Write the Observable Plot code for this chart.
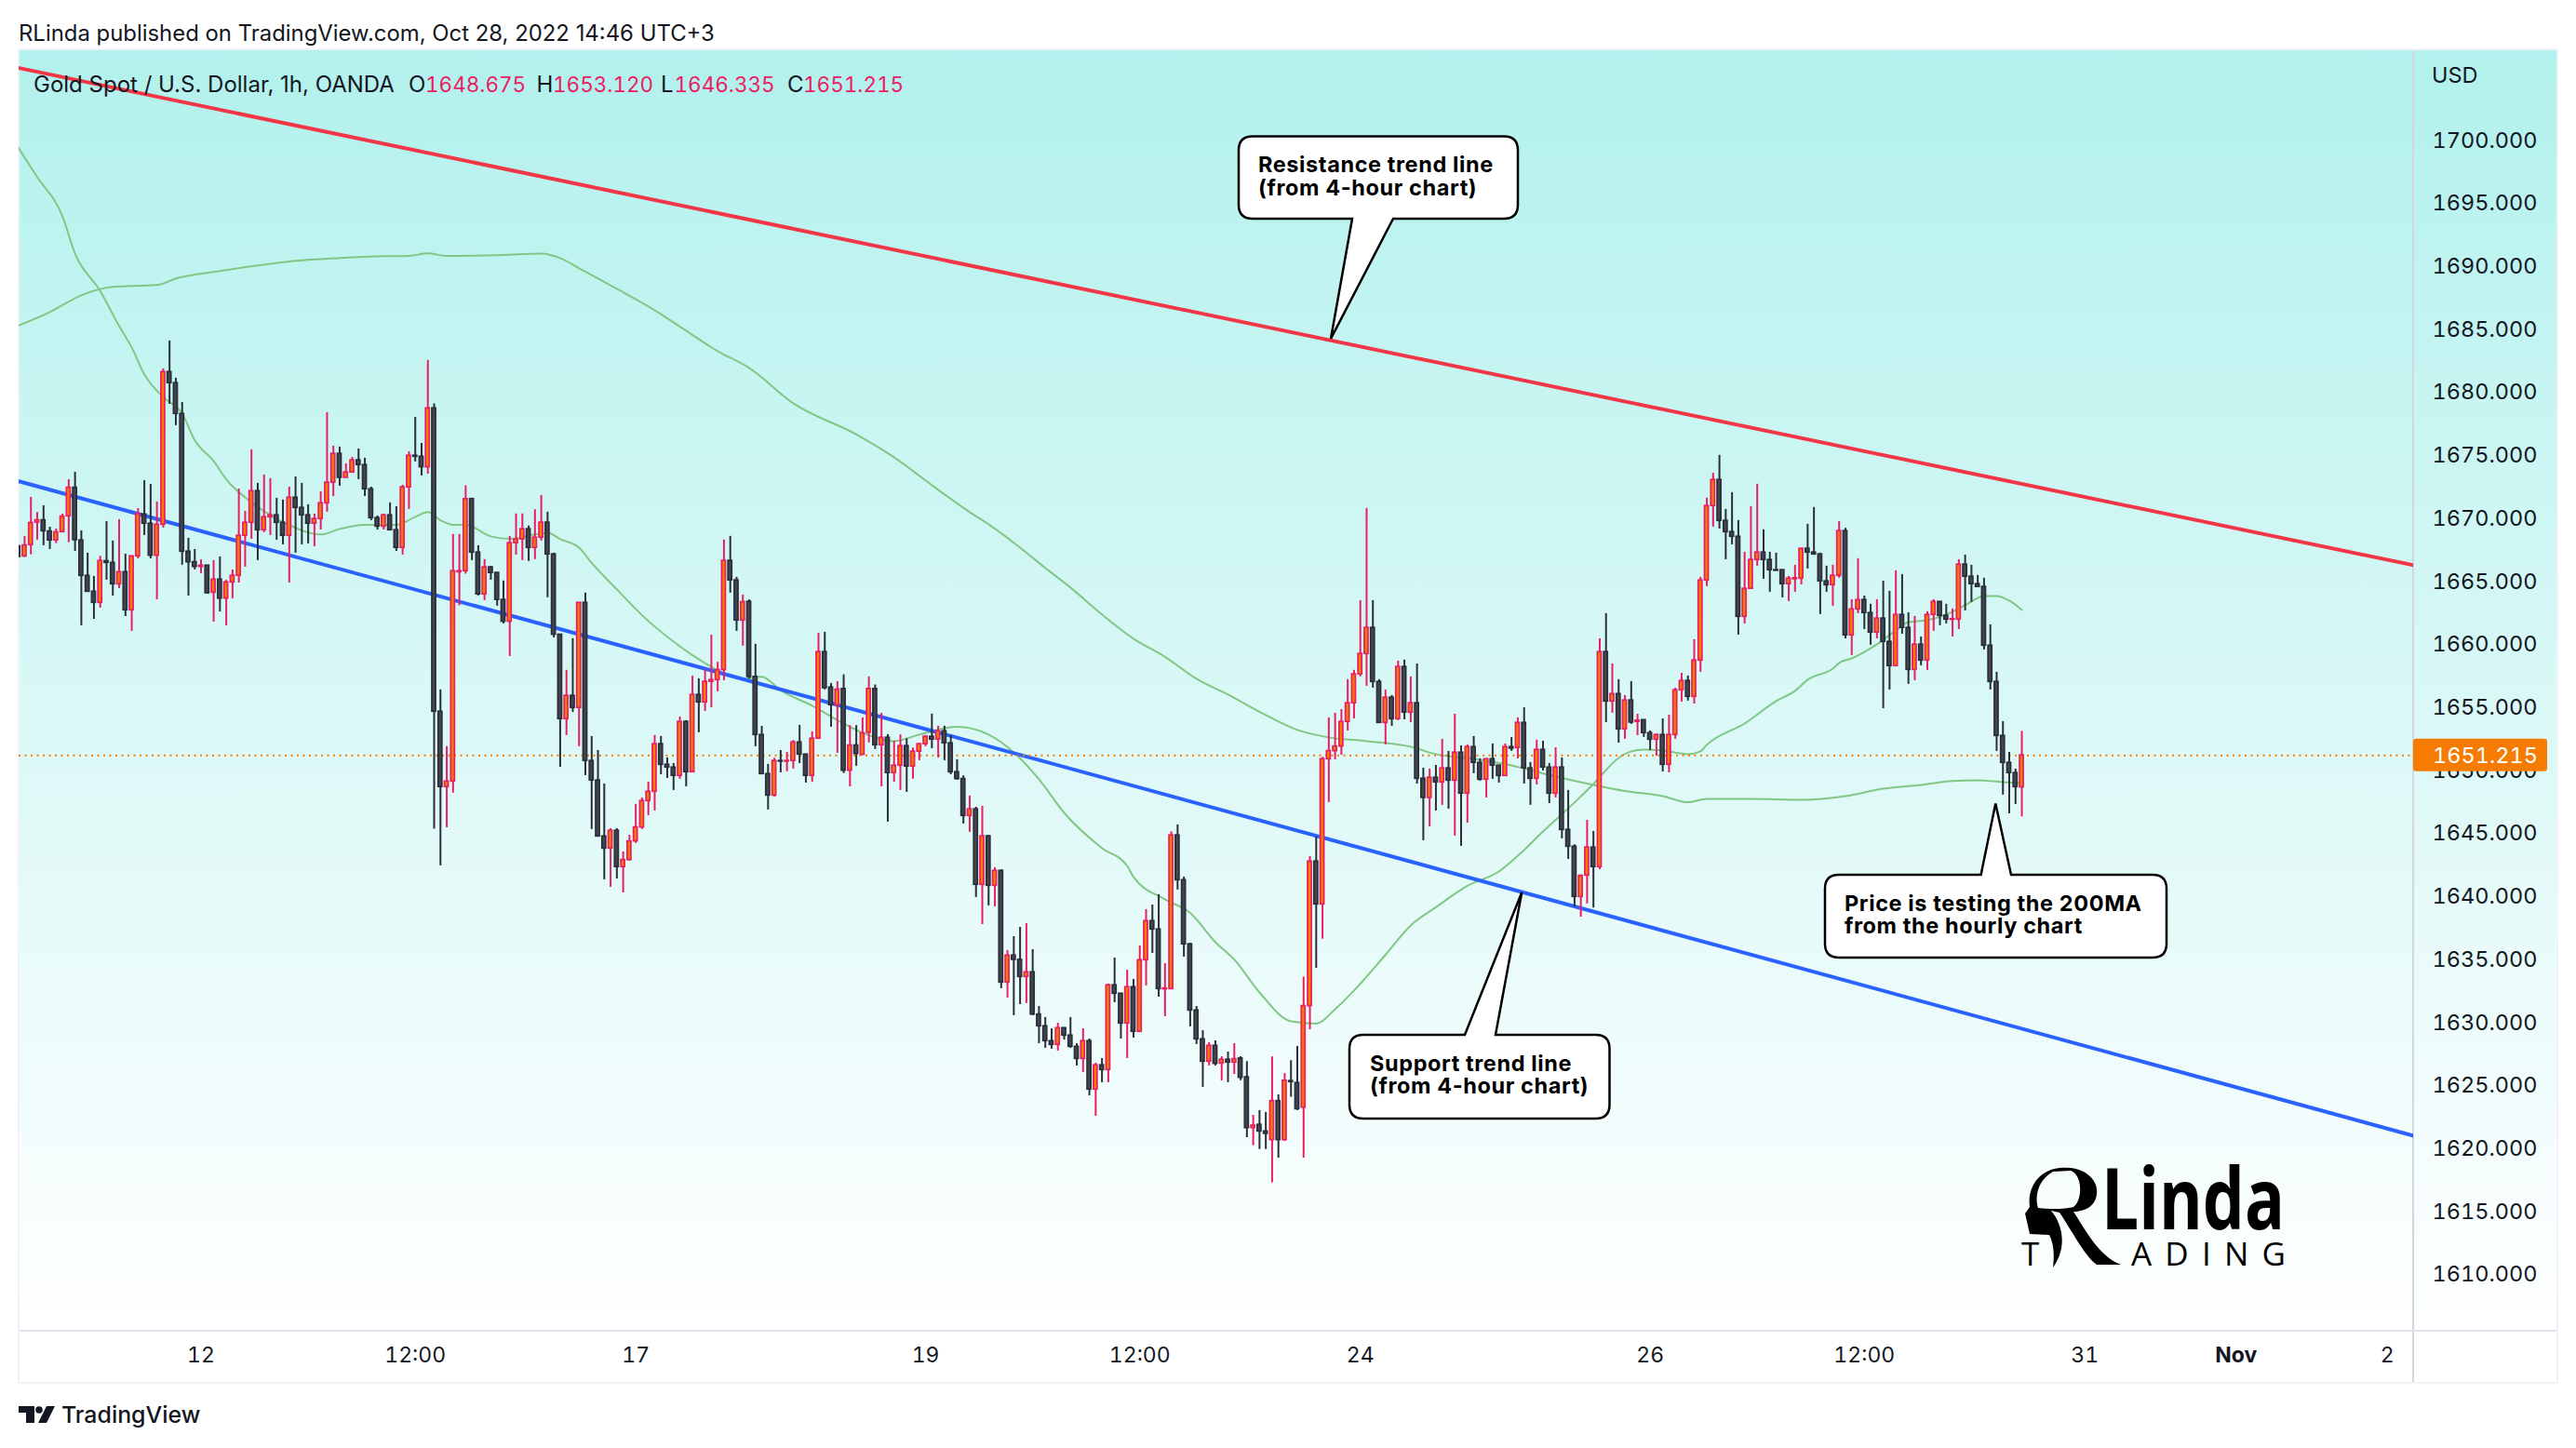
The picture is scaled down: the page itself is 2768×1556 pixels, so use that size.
<!DOCTYPE html>
<html>
<head>
<meta charset="utf-8">
<title>Gold Spot / U.S. Dollar, 1h, OANDA</title>
<script src="https://cdn.jsdelivr.net/npm/d3@7"></script>
<script src="https://cdn.jsdelivr.net/npm/@observablehq/plot@0.6"></script>
<style>
html,body{margin:0;padding:0;background:#fff}
svg{display:block}
</style>
</head>
<body>
<div id="chart"></div>
<script>
const open = [
1667.80,1667.01,1667.90,1669.69,1669.87,1668.98,1668.27,1668.93,1670.19,1672.45,
1668.27,1665.46,1664.20,1663.32,1666.62,1666.49,1664.79,1665.75,1662.73,1667.01,
1670.33,1669.60,1667.06,1669.52,1681.63,1680.75,1678.31,1667.38,1666.54,1666.17,
1666.27,1664.13,1665.16,1663.66,1664.94,1665.46,1668.64,1669.67,1672.18,1669.08,
1670.11,1670.26,1669.67,1668.64,1671.66,1670.85,1670.26,1669.60,1669.97,1671.22,
1672.85,1675.14,1673.24,1673.66,1674.62,1674.25,1672.33,1670.04,1669.37,1670.26,
1669.08,1667.68,1672.48,1674.99,1674.91,1674.08,1678.75,1654.68,1648.70,1649.14,
1665.75,1665.83,1671.55,1667.31,1663.99,1666.13,1665.69,1663.55,1661.82,1668.05,
1668.35,1669.16,1667.68,1668.49,1669.68,1667.16,1660.79,1654.09,1655.94,1654.98,
1663.32,1650.77,1649.22,1644.78,1643.82,1645.23,1642.35,1642.91,1644.39,1645.50,
1647.59,1648.33,1652.10,1650.47,1650.25,1649.59,1653.87,1649.88,1656.01,1655.42,
1657.05,1657.19,1657.98,1666.65,1665.10,1661.92,1663.40,1657.44,1652.83,1649.73,
1648.03,1650.77,1650.72,1650.77,1652.24,1651.28,1649.59,1652.54,1659.41,1656.60,
1655.20,1656.48,1650.00,1652.00,1651.26,1653.01,1656.48,1652.02,1652.61,1649.81,
1650.40,1651.95,1650.33,1651.51,1652.10,1652.69,1652.47,1653.13,1652.17,1649.88,
1649.34,1646.41,1646.93,1640.95,1644.79,1640.87,1642.05,1633.19,1635.33,1634.99,
1633.63,1634.00,1630.65,1629.72,1628.54,1628.24,1629.57,1628.98,1628.09,1627.13,
1628.54,1624.70,1626.62,1626.25,1632.97,1632.30,1629.94,1632.82,1629.28,1634.96,
1638.06,1637.40,1632.65,1632.67,1644.86,1641.31,1636.22,1630.97,1628.68,1626.91,
1628.17,1626.76,1627.06,1626.84,1627.16,1625.67,1621.64,1621.90,1621.37,1620.69,
1623.78,1620.69,1625.37,1625.22,1623.26,1631.32,1642.79,1639.39,1650.91,1651.55,
1651.92,1653.87,1655.35,1657.64,1659.26,1661.33,1657.04,1653.79,1655.79,1654.09,
1658.23,1654.61,1655.35,1649.36,1647.84,1649.44,1649.07,1650.18,1649.21,1651.43,
1648.18,1651.87,1650.62,1649.29,1650.91,1650.40,1649.58,1651.87,1651.80,1653.79,
1650.18,1649.36,1651.65,1650.25,1648.18,1650.25,1645.30,1643.97,1639.98,1641.68,
1643.90,1642.35,1659.41,1655.49,1656.08,1653.28,1655.57,1653.87,1654.01,1652.98,
1652.46,1652.83,1650.47,1652.83,1656.38,1657.12,1655.86,1658.74,1665.09,1671.00,
1673.07,1669.82,1668.93,1668.56,1662.21,1664.43,1666.72,1667.31,1666.72,1665.91,
1665.91,1664.80,1665.19,1665.24,1667.61,1667.31,1667.16,1665.02,1664.72,1665.46,
1669.01,1660.74,1662.80,1663.54,1662.51,1660.96,1662.07,1660.22,1658.30,1662.36,
1661.33,1658.00,1660.00,1658.74,1662.36,1663.39,1662.29,1661.97,1661.99,1666.35,
1665.39,1664.80,1664.58,1659.92,1657.04,1652.76,1650.62,1649.81,1648.675];
const close = [
1666.96,1667.87,1669.65,1669.87,1669.00,1668.27,1668.91,1670.16,1672.45,1668.29,
1665.46,1664.20,1663.32,1666.64,1666.49,1664.79,1665.75,1662.73,1667.01,1670.36,
1669.60,1667.06,1669.52,1681.63,1680.75,1678.31,1667.38,1666.54,1666.17,1666.27,
1664.08,1665.16,1663.66,1664.94,1665.46,1668.64,1669.67,1672.18,1669.08,1670.11,
1670.26,1669.67,1668.64,1671.66,1670.85,1670.26,1669.60,1669.97,1671.22,1672.85,
1675.14,1673.24,1673.66,1674.62,1674.25,1672.33,1670.04,1669.37,1670.26,1669.08,
1667.68,1672.48,1674.99,1674.91,1674.08,1678.75,1654.68,1648.70,1649.14,1665.83,
1665.83,1671.55,1667.31,1663.99,1666.13,1665.69,1663.55,1661.82,1668.05,1668.35,
1669.16,1667.68,1668.49,1669.68,1667.16,1660.79,1654.09,1655.94,1654.98,1663.32,
1650.77,1649.22,1644.78,1643.82,1645.23,1642.35,1642.91,1644.39,1645.50,1647.59,
1648.33,1652.10,1650.47,1650.25,1649.59,1653.87,1649.88,1656.01,1655.42,1657.05,
1657.19,1657.98,1666.65,1665.10,1661.92,1663.37,1657.44,1652.83,1649.73,1648.03,
1650.77,1650.72,1650.77,1652.24,1651.28,1649.59,1652.54,1659.41,1656.55,1655.20,
1656.43,1650.00,1652.00,1651.33,1652.96,1656.48,1652.02,1652.61,1649.81,1650.40,
1651.95,1650.33,1651.51,1652.10,1652.69,1652.47,1653.13,1652.17,1649.88,1649.34,
1646.41,1646.93,1640.95,1644.79,1640.87,1642.05,1633.19,1635.33,1634.99,1633.63,
1634.00,1630.65,1629.72,1628.54,1628.24,1629.57,1628.98,1628.09,1627.13,1628.54,
1624.70,1626.62,1626.25,1632.97,1632.30,1629.94,1632.82,1629.28,1634.96,1638.06,
1637.40,1632.67,1632.72,1644.86,1641.31,1636.22,1630.97,1628.68,1626.91,1628.17,
1626.74,1627.06,1626.84,1627.11,1625.63,1621.64,1621.83,1621.37,1621.18,1623.78,
1620.69,1625.40,1625.29,1623.14,1631.32,1642.79,1639.39,1650.91,1651.55,1651.92,
1653.87,1655.35,1657.64,1659.26,1661.33,1657.04,1653.79,1655.79,1654.09,1658.23,
1654.61,1655.35,1649.36,1647.84,1649.44,1649.07,1650.18,1649.21,1651.43,1648.18,
1651.87,1650.62,1649.29,1650.91,1650.40,1649.58,1651.87,1651.75,1653.79,1650.18,
1649.36,1651.65,1650.25,1648.18,1650.25,1645.30,1643.97,1639.98,1641.66,1643.90,
1642.35,1659.41,1655.49,1656.08,1653.28,1655.57,1653.82,1653.97,1652.98,1652.46,
1652.83,1650.47,1652.83,1656.38,1657.12,1655.86,1658.74,1665.09,1671.00,1673.07,
1669.82,1668.93,1668.56,1662.21,1664.43,1666.72,1667.31,1666.72,1665.91,1665.86,
1664.80,1665.24,1665.27,1667.61,1667.31,1667.16,1665.02,1664.72,1665.46,1669.01,
1660.74,1662.80,1663.54,1662.51,1660.96,1662.07,1660.22,1658.30,1662.36,1661.33,
1658.00,1660.00,1658.74,1662.36,1663.39,1662.29,1661.99,1662.02,1666.35,1665.39,
1664.80,1664.58,1659.92,1657.04,1652.76,1650.62,1649.81,1648.70,1651.215];
const high = [
1667.80,1668.59,1671.69,1670.48,1671.02,1669.32,1669.18,1670.36,1673.09,1673.68,
1669.03,1667.26,1665.41,1667.01,1669.77,1668.22,1669.92,1667.18,1667.01,1670.80,
1673.02,1672.72,1671.32,1681.88,1684.10,1681.14,1679.22,1668.44,1667.55,1666.74,
1666.27,1666.67,1666.96,1665.11,1665.93,1672.35,1670.58,1675.46,1672.80,1673.46,
1673.17,1671.61,1671.47,1672.50,1673.31,1672.80,1671.10,1670.36,1672.13,1678.41,
1675.75,1675.68,1674.35,1674.86,1675.53,1674.79,1672.50,1670.21,1670.36,1671.25,
1670.95,1672.65,1675.31,1678.04,1675.97,1682.55,1679.10,1656.41,1651.90,1668.74,
1668.74,1672.61,1671.62,1667.85,1666.75,1666.20,1665.69,1665.05,1668.59,1670.37,
1670.37,1669.41,1670.71,1671.84,1670.51,1667.26,1660.79,1657.96,1660.47,1663.32,
1664.09,1652.71,1651.60,1648.95,1645.40,1645.40,1643.55,1644.88,1647.32,1647.84,
1649.09,1652.79,1652.71,1651.01,1650.57,1654.26,1653.97,1657.51,1657.29,1658.01,
1660.76,1658.60,1668.30,1668.59,1665.34,1663.94,1663.55,1660.03,1653.52,1650.50,
1650.99,1651.60,1651.46,1652.39,1653.60,1651.28,1653.08,1660.91,1660.98,1656.92,
1657.07,1657.61,1653.57,1653.57,1654.19,1657.44,1656.80,1654.56,1652.86,1652.34,
1652.84,1652.54,1651.80,1652.17,1652.79,1654.49,1653.53,1653.53,1652.79,1650.87,
1649.59,1647.99,1647.10,1647.17,1644.88,1642.30,1642.13,1635.73,1636.83,1637.57,
1637.87,1635.80,1631.29,1630.41,1629.52,1629.96,1629.59,1630.41,1628.34,1629.52,
1628.71,1626.79,1627.16,1633.07,1635.13,1632.30,1634.17,1633.44,1636.09,1638.98,
1639.34,1640.16,1634.69,1645.15,1645.70,1641.56,1636.29,1631.29,1629.37,1628.41,
1628.56,1627.30,1627.67,1628.34,1627.30,1626.91,1622.65,1623.03,1622.88,1627.29,
1624.27,1625.97,1626.99,1628.12,1633.62,1643.18,1644.73,1651.06,1654.19,1654.56,
1654.85,1657.22,1657.96,1663.49,1670.81,1663.49,1657.22,1656.40,1655.96,1658.69,
1658.77,1657.44,1658.47,1650.20,1650.13,1650.42,1652.49,1651.53,1654.48,1651.97,
1652.05,1652.71,1650.94,1650.94,1652.12,1650.40,1652.12,1652.64,1654.19,1655.00,
1650.64,1652.42,1652.34,1650.57,1651.82,1651.01,1648.43,1644.12,1641.71,1646.06,
1645.18,1660.47,1662.46,1658.47,1657.22,1655.96,1657.07,1654.48,1654.01,1653.15,
1652.91,1654.11,1654.41,1656.55,1657.73,1657.51,1660.39,1665.34,1671.62,1673.61,
1675.02,1670.73,1672.06,1669.85,1667.33,1670.95,1672.73,1669.11,1667.33,1667.26,
1665.93,1665.41,1666.30,1667.61,1669.55,1670.88,1667.26,1666.23,1666.30,1669.77,
1669.23,1663.57,1666.82,1663.86,1663.20,1663.57,1665.04,1664.23,1665.86,1665.56,
1662.53,1662.24,1660.61,1662.61,1663.57,1663.39,1663.20,1662.83,1666.74,1667.11,
1666.30,1665.49,1665.27,1661.57,1657.81,1653.89,1651.45,1650.12,1653.12];
const low = [
1666.96,1666.91,1667.13,1668.29,1667.85,1667.55,1668.02,1668.93,1668.09,1667.40,
1661.50,1664.20,1662.01,1662.90,1665.11,1663.86,1664.45,1662.23,1661.05,1666.81,
1668.66,1666.81,1663.56,1669.25,1679.07,1677.38,1666.30,1663.86,1665.93,1665.63,
1664.01,1661.79,1662.60,1661.50,1663.64,1664.89,1666.15,1668.36,1666.67,1668.88,
1668.66,1668.29,1667.92,1664.89,1667.26,1667.92,1668.00,1667.77,1669.10,1670.51,
1671.76,1672.57,1673.24,1673.66,1673.09,1671.76,1669.84,1669.10,1669.10,1669.08,
1667.40,1667.11,1670.73,1674.50,1673.39,1673.53,1645.35,1642.45,1645.47,1648.21,
1663.08,1665.59,1666.67,1663.87,1663.50,1665.12,1663.05,1661.65,1659.06,1667.11,
1666.67,1666.60,1666.75,1668.22,1663.72,1660.54,1650.27,1652.79,1654.63,1651.90,
1649.61,1645.33,1644.78,1641.34,1640.75,1641.41,1640.30,1642.81,1644.22,1645.33,
1646.43,1646.80,1649.68,1649.39,1648.43,1649.32,1648.72,1649.88,1653.01,1654.71,
1655.00,1656.26,1657.14,1664.09,1661.06,1659.88,1657.29,1651.90,1649.68,1646.88,
1647.91,1649.83,1649.91,1650.13,1650.57,1649.02,1649.09,1652.54,1656.41,1653.45,
1651.38,1649.78,1648.72,1650.35,1651.21,1652.20,1651.68,1648.72,1645.92,1649.09,
1648.43,1648.28,1649.32,1650.79,1651.90,1651.75,1651.01,1650.79,1649.68,1649.24,
1645.77,1645.11,1639.94,1637.79,1639.27,1639.19,1632.70,1631.96,1630.56,1631.44,
1631.52,1630.56,1628.34,1627.97,1627.90,1627.75,1628.63,1627.97,1626.57,1626.05,
1624.20,1622.58,1625.24,1625.24,1631.59,1628.71,1627.16,1628.78,1629.28,1632.92,
1635.50,1632.03,1630.48,1632.67,1640.53,1635.21,1629.67,1628.27,1624.87,1626.57,
1626.57,1625.38,1625.24,1625.90,1625.40,1620.88,1620.24,1619.94,1619.94,1617.30,
1619.26,1620.58,1624.09,1623.03,1619.26,1629.44,1634.32,1636.63,1647.47,1650.86,
1651.23,1653.15,1654.11,1657.44,1656.70,1656.55,1653.79,1652.05,1653.52,1653.97,
1654.04,1653.82,1648.94,1644.44,1645.55,1646.80,1647.25,1646.95,1644.81,1644.00,
1645.84,1649.76,1649.17,1647.84,1649.31,1649.02,1649.58,1651.53,1650.94,1648.94,
1647.25,1648.87,1649.98,1647.39,1647.84,1644.59,1642.96,1639.19,1638.38,1639.42,
1639.10,1642.15,1653.82,1654.56,1652.19,1652.49,1653.67,1652.78,1652.64,1651.60,
1651.16,1649.90,1649.83,1652.49,1655.44,1655.52,1655.29,1657.81,1664.60,1669.33,
1669.18,1666.74,1667.92,1660.76,1661.65,1664.38,1666.23,1665.19,1664.16,1665.86,
1663.71,1663.42,1664.16,1664.75,1666.00,1667.09,1662.39,1664.16,1663.05,1665.27,
1660.46,1659.14,1662.46,1661.20,1659.95,1660.46,1654.92,1656.40,1658.30,1660.83,
1656.85,1657.14,1658.32,1657.95,1661.06,1661.50,1661.65,1660.61,1661.20,1662.68,
1663.35,1664.53,1659.58,1656.40,1651.53,1648.06,1646.58,1647.32,1646.335];

// Slow moving average, read at these bars
const maSlowBar = [0,5,10,15,22,25,32,38,44,51,58,62,65,68,77,83,86,89,95,101,106,111,116,123,133,139,145,151,154,159,163,167,172,177,182,187,192,198,203,208,214,221,225,231,237,244,250,255,261,265,268,275,283,290,296,302,307,311,315,318];
const maSlow = [1685.31,1686.39,1687.72,1688.38,1688.53,1689.05,1689.64,1690.08,1690.45,1690.67,1690.82,1690.85,1691.04,1690.85,1690.92,1691.02,1690.67,1689.86,1688.23,1686.54,1684.91,1683.29,1681.96,1679.15,1676.68,1674.87,1672.65,1670.51,1669.55,1667.70,1666.08,1664.53,1662.39,1660.47,1659.03,1657.29,1656.03,1654.41,1653.23,1652.64,1652.34,1651.90,1651.31,1650.94,1650.42,1649.53,1648.87,1648.39,1647.98,1647.49,1647.76,1647.76,1647.69,1647.98,1648.57,1648.87,1649.17,1649.24,1649.09,1649.02];
// Fast moving average, read at these bars
const maFastBar = [0,3,7,9,13,16,18,20,23,26,28,31,33,36,39,43,48,51,55,60,63,65,67,69,71,75,78,82,84,86,89,91,95,100,104,108,115,118,121,126,131,134,139,143,149,154,158,162,166,172,176,177,182,186,190,193,197,202,206,209,212,217,221,225,230,235,239,242,247,250,254,256,258,261,265,267,268,274,279,282,284,288,289,291,295,298,300,303,307,309,312,314,316,318];
const maFast = [1699.42,1697.10,1694.00,1691.04,1688.05,1685.28,1683.58,1681.44,1679.63,1678.34,1676.23,1674.57,1673.12,1671.69,1670.58,1669.48,1668.74,1669.18,1669.51,1669.51,1670.14,1670.51,1669.87,1669.51,1669.51,1668.59,1668.40,1668.74,1668.88,1668.37,1667.70,1666.48,1664.38,1661.87,1660.24,1658.84,1657.29,1657.44,1656.37,1655.15,1653.74,1653.01,1652.34,1652.86,1653.48,1652.86,1651.45,1649.31,1646.65,1643.85,1642.44,1641.56,1639.79,1638.71,1636.39,1635.01,1632.40,1630.11,1629.93,1631.07,1632.55,1635.39,1637.72,1639.16,1640.86,1642.00,1643.70,1645.18,1647.47,1648.94,1651.01,1651.53,1651.68,1651.60,1651.31,1651.53,1652.05,1653.74,1655.52,1656.33,1657.22,1658.10,1658.55,1658.91,1660.02,1661.13,1661.79,1661.94,1662.61,1663.12,1663.86,1663.86,1663.49,1662.75];

const resistanceBar = [0.118, 380.18];
const resistance = [1705.75, 1666.30];
const supportBar = [0.118, 380.18];
const support = [1672.96, 1621.03];

const priceTicks = [1610,1615,1620,1625,1630,1635,1640,1645,1650,1655,1660,1665,1670,1675,1680,1685,1690,1695,1700];
const timeTickBars = [29,63,98,144,178,213,259,293,328,376];
const timeTickLabels = ["12","12:00","17","19","12:00","24","26","12:00","31","2"];
const monthTickBars = [352];
const monthTickLabels = ["Nov"];

const publishLine = "RLinda published on TradingView.com, Oct 28, 2022 14:46 UTC+3";
const symbolLine = "Gold Spot / U.S. Dollar, 1h, OANDA";
const ohlcKeys = ["O","H","L","C"];
const ohlcVals = ["1648.675","1653.120","1646.335","1651.215"];
const lastPrice = 1651.215;

const callouts = [
  {lines:["Resistance trend line","(from 4-hour chart)"], tipBar:208.4, tipPrice:1684.25, box:[1331,146.5,300,88.5], base:[1453,1497], side:"bottom", tx:1352, ty:[176.5,201]},
  {lines:["Support trend line","(from 4-hour chart)"], tipBar:238.7, tipPrice:1640.30, box:[1450,1112,279.5,90], base:[1574,1607], side:"top", tx:1472, ty:[1142.5,1166.5]},
  {lines:["Price is testing the 200MA","from the hourly chart"], tipBar:313.9, tipPrice:1647.35, box:[1961,940,367,89], base:[2128.6,2161], side:"top", tx:1982, ty:[970.5,994.5]}
];

const FONT = "Inter, 'Noto Sans', sans-serif";
const INK = "#131722";
const UP = "#e91e63", UPFILL = "#f57c00", DOWN = "#2a2e39", DOWNFILL = "#434651";

const idx = d3.range(open.length);
const isUp = i => close[i] >= open[i];
const series = (b, v) => b.map((x, k) => ({x, y: v[k]}));

function svgEl(context, name, attrs, parent) {
  const e = context.document.createElementNS("http://www.w3.org/2000/svg", name);
  for (const k in attrs) e.setAttribute(k, attrs[k]);
  if (parent) parent.appendChild(e);
  return e;
}
function label(context, g, str, x, y, opt = {}) {
  const t = svgEl(context, "text", Object.assign({x, y, "font-family": FONT, "font-size": 23.5, fill: INK, "dominant-baseline": "central", "text-anchor": "start"}, opt), g);
  t.textContent = str;
  return t;
}

// Panel borders and the separators of the price and time scales
function chromeMark(index, scales, values, dims, context) {
  const g = svgEl(context, "g", {});
  const line = (x1, y1, x2, y2, stroke, w) => svgEl(context, "line", {x1, y1, x2, y2, stroke, "stroke-width": w}, g);
  line(2593, 53, 2593, 1486, "#d1d8dc", 2);
  line(20, 1430, 2748, 1430, "#e0e3eb", 2);
  line(20, 1486, 2748, 1486, "#f0f3fa", 2);
  line(2748, 53, 2748, 1486, "#f0f3fa", 2);
  line(20, 53, 20, 1486, "#f0f3fa", 2);
  line(20, 53, 2748, 53, "#f0f3fa", 2);
  return g;
}

function textMark(index, scales, values, dims, context) {
  const g = svgEl(context, "g", {});
  label(context, g, publishLine, 20, 35.5, {"font-size": 23.9});
  label(context, g, symbolLine, 36, 90, {"font-size": 24});
  const keyX = [439, 576.5, 710, 846], valX = [457, 594, 724.5, 863];
  ohlcKeys.forEach((k, n) => {
    label(context, g, k, keyX[n], 90, {"font-size": 24});
    label(context, g, ohlcVals[n], valX[n], 90, {"font-size": 22.5, fill: UP, style: "font-variant-numeric:tabular-nums"});
  });
  label(context, g, "USD", 2613, 80.5, {"font-size": 23.5});
  // Footer with the TradingView mark
  svgEl(context, "path", {d: "M20 1511H37V1529H28V1518H20Z M50 1511H59L50 1529H41Z", fill: INK}, g);
  svgEl(context, "circle", {cx: 42, cy: 1515, r: 3.8, fill: INK}, g);
  label(context, g, "TradingView", 66, 1520, {"font-size": 24.9, "font-weight": 500});
  return g;
}

function priceTag(index, {y}, values, dims, context) {
  const g = svgEl(context, "g", {});
  const py = y(lastPrice);
  svgEl(context, "rect", {x: 2593, y: py - 17.5, width: 144, height: 35, rx: 3, fill: "#f57c00"}, g);
  label(context, g, "1651.215", 2614, py + 0.5, {fill: "#ffffff", style: "font-variant-numeric:tabular-nums"});
  return g;
}

function calloutMark(index, {x, y}, values, dims, context) {
  const g = svgEl(context, "g", {});
  for (const c of callouts) {
    const [bx, by, bw, bh] = c.box, r = 15;
    const tx = x(c.tipBar), ty = y(c.tipPrice);
    const [b0, b1] = c.base;
    let d = `M${bx + r} ${by}`;
    if (c.side === "top") d += `L${b0} ${by}L${tx} ${ty}L${b1} ${by}`;
    d += `L${bx + bw - r} ${by}Q${bx + bw} ${by} ${bx + bw} ${by + r}L${bx + bw} ${by + bh - r}Q${bx + bw} ${by + bh} ${bx + bw - r} ${by + bh}`;
    if (c.side === "bottom") d += `L${b1} ${by + bh}L${tx} ${ty}L${b0} ${by + bh}`;
    d += `L${bx + r} ${by + bh}Q${bx} ${by + bh} ${bx} ${by + bh - r}L${bx} ${by + r}Q${bx} ${by} ${bx + r} ${by}Z`;
    svgEl(context, "path", {d, fill: "#ffffff", stroke: "#000000", "stroke-width": 2.5, "stroke-linejoin": "miter"}, g);
    c.lines.forEach((s, n) => label(context, g, s, c.tx, c.ty[n], {"font-size": 23.5, "font-weight": 700, fill: "#000000", "letter-spacing": 0.6}));
  }
  return g;
}

// Publisher logo
function logoMark(index, scales, values, dims, context) {
  const g = svgEl(context, "g", {});
  svgEl(context, "path", {
    "fill-rule": "evenodd", fill: "#000",
    d: "M2213 1255C2240 1252 2255 1268 2253 1283C2252 1296 2240 1302 2228 1302C2240 1320 2255 1350 2279 1359L2253 1359C2240 1350 2225 1320 2213 1303L2204 1301C2216 1315 2222 1340 2206 1362C2208 1345 2206 1335 2202 1327L2181 1326L2179 1317L2176 1304L2181 1297C2178 1275 2192 1257 2213 1255Z M2206 1259C2190 1268 2186 1285 2190 1298C2205 1300 2220 1299 2228 1297C2238 1290 2238 1262 2225 1258Z"
  }, g);
  label(context, g, "Linda", 2258, 1321, {"font-family": "'Open Sans', sans-serif", "font-size": 92, "font-weight": 700, fill: "#000", "dominant-baseline": "auto", textLength: 197, lengthAdjust: "spacingAndGlyphs"});
  label(context, g, "T", 2172, 1360, {"font-family": "'Open Sans', sans-serif", "font-size": 35, fill: "#000", "dominant-baseline": "auto"});
  label(context, g, "ADING", 2290, 1360, {"font-family": "'Open Sans', sans-serif", "font-size": 35, fill: "#000", "dominant-baseline": "auto", textLength: 166, lengthAdjust: "spacing"});
  return g;
}

const plot = Plot.plot({
  width: 2768,
  height: 1556,
  marginLeft: 20,
  marginRight: 175,
  marginTop: 53,
  marginBottom: 126,
  style: {
    background: "linear-gradient(#b2f1ed,#ffffff) no-repeat 20px 53px / 2728px 1377px",
    fontFamily: FONT,
    color: INK,
    overflow: "hidden"
  },
  x: {domain: [0.118, 380.18], axis: null},
  y: {domain: [1605.52, 1707.2], axis: null},
  color: {type: "identity"},
  marks: [
    chromeMark,
    Plot.axisY({anchor: "right", ticks: priceTicks, tickSize: 0, tickPadding: 20, tickFormat: d => d.toFixed(3), fontSize: 23.5, label: null, fill: INK}),
    Plot.axisX({anchor: "bottom", ticks: timeTickBars, tickFormat: i => timeTickLabels[timeTickBars.indexOf(i)], tickSize: 0, tickPadding: 17, fontSize: 23, label: null, fill: INK}),
    Plot.axisX({anchor: "bottom", ticks: monthTickBars, tickFormat: i => monthTickLabels[monthTickBars.indexOf(i)], tickSize: 0, tickPadding: 17, fontSize: 23, fontWeight: 700, label: null, fill: INK}),
    Plot.line(series(maSlowBar, maSlow), {x: "x", y: "y", stroke: "#81c784", strokeWidth: 2, curve: "monotone-x", clip: true}),
    Plot.line(series(maFastBar, maFast), {x: "x", y: "y", stroke: "#81c784", strokeWidth: 2, curve: "monotone-x", clip: true}),
    Plot.line(series(resistanceBar, resistance), {x: "x", y: "y", stroke: "#f23645", strokeWidth: 4, clip: true}),
    Plot.line(series(supportBar, support), {x: "x", y: "y", stroke: "#2962ff", strokeWidth: 4, clip: true}),
    Plot.ruleY([lastPrice], {stroke: "#f57c00", strokeWidth: 2, strokeDasharray: "2 4.5"}),
    Plot.ruleX(idx, {x: i => i, y1: i => low[i], y2: i => high[i], stroke: i => isUp(i) ? UP : DOWN, strokeWidth: 2, clip: true}),
    Plot.rect(idx, {x1: i => i - 0.3, x2: i => i + 0.3, y1: i => Math.min(open[i], close[i]), y2: i => Math.max(open[i], close[i]), fill: i => isUp(i) ? UPFILL : DOWNFILL, stroke: i => isUp(i) ? UP : DOWN, strokeWidth: 1.7, clip: true}),
    priceTag,
    calloutMark,
    logoMark,
    textMark
  ]
});
document.getElementById("chart").appendChild(plot);
</script>
</body>
</html>
